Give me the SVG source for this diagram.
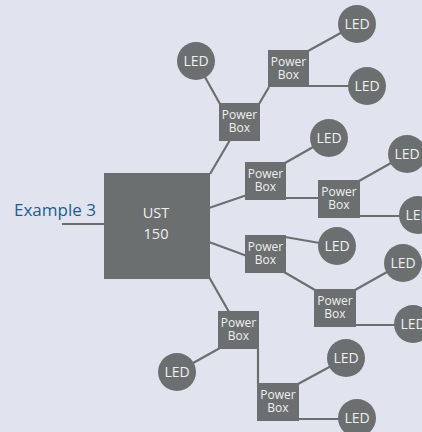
<svg xmlns="http://www.w3.org/2000/svg" width="422" height="432" viewBox="0 0 422 432">
  <style>
    .bg { fill: #e1e4ee; }
    .box { fill: #6b6f70; }
    .led { fill: #6b6f70; }
    .lbl { fill: #eef0f0; font-family: "Open Sans", "DejaVu Sans", sans-serif; text-anchor: middle; }
    .pb { font-size: 12px; }
    .ledt { font-size: 14px; }
    .ust { font-size: 14.5px; }
    .title { fill: #1c5d8e; font-family: "Open Sans", "DejaVu Sans", sans-serif; font-size: 17px; }
    .conn line { stroke: #6b6f70; stroke-width: 2.2; fill: none; }
  </style>
  <rect class="bg" x="0" y="0" width="422" height="432"/>

  <g id="connectors" class="conn">
    <line x1="62" y1="224" x2="105" y2="224"/>
    <line x1="210" y1="174" x2="230" y2="140"/>
    <line x1="220" y1="104" x2="196" y2="61"/>
    <line x1="259" y1="104" x2="269" y2="87"/>
    <line x1="308" y1="51" x2="357" y2="24"/>
    <line x1="308" y1="86" x2="367" y2="86"/>
    <line x1="209" y1="208" x2="247" y2="195"/>
    <line x1="285" y1="163" x2="329" y2="138"/>
    <line x1="285" y1="198" x2="319" y2="198"/>
    <line x1="359" y1="181" x2="407" y2="154"/>
    <line x1="359" y1="216" x2="418" y2="216"/>
    <line x1="209" y1="242" x2="247" y2="256"/>
    <line x1="285" y1="237" x2="337" y2="246"/>
    <line x1="284" y1="272" x2="315" y2="290"/>
    <line x1="355" y1="290" x2="403" y2="263"/>
    <line x1="355" y1="325" x2="413" y2="325"/>
    <line x1="209" y1="277" x2="229" y2="312"/>
    <line x1="220" y1="348" x2="177" y2="372"/>
    <line x1="258" y1="348" x2="258" y2="384"/>
    <line x1="298" y1="384" x2="346" y2="358"/>
    <line x1="298" y1="419" x2="357" y2="419"/>
  </g>

  <g id="example-label">
    <text class="title" x="14" y="216">Example 3</text>
  </g>

  <g id="ust150">
    <rect class="box" x="104" y="173" width="106" height="106"/>
    <text class="lbl ust" x="156" y="218">UST</text>
    <text class="lbl ust" x="156" y="239">150</text>
  </g>

  <g id="pb1">
    <rect class="box" x="219" y="103" width="41" height="38"/>
    <text class="lbl pb" x="239.5" y="119">Power</text>
    <text class="lbl pb" x="239.5" y="132">Box</text>
  </g>
  <g id="pb2">
    <rect class="box" x="268" y="50" width="41" height="37"/>
    <text class="lbl pb" x="288.5" y="66">Power</text>
    <text class="lbl pb" x="288.5" y="79">Box</text>
  </g>
  <g id="pb3">
    <rect class="box" x="245" y="162" width="41" height="38"/>
    <text class="lbl pb" x="265.5" y="178">Power</text>
    <text class="lbl pb" x="265.5" y="191">Box</text>
  </g>
  <g id="pb4">
    <rect class="box" x="318" y="180" width="42" height="38"/>
    <text class="lbl pb" x="339" y="196">Power</text>
    <text class="lbl pb" x="339" y="209">Box</text>
  </g>
  <g id="pb5">
    <rect class="box" x="245" y="235" width="41" height="38"/>
    <text class="lbl pb" x="265.5" y="251">Power</text>
    <text class="lbl pb" x="265.5" y="264">Box</text>
  </g>
  <g id="pb6">
    <rect class="box" x="314" y="289" width="42" height="38"/>
    <text class="lbl pb" x="335" y="305">Power</text>
    <text class="lbl pb" x="335" y="318">Box</text>
  </g>
  <g id="pb7">
    <rect class="box" x="218" y="311" width="41" height="38"/>
    <text class="lbl pb" x="238.5" y="327">Power</text>
    <text class="lbl pb" x="238.5" y="340">Box</text>
  </g>
  <g id="pb8">
    <rect class="box" x="257" y="383" width="42" height="38"/>
    <text class="lbl pb" x="278" y="399">Power</text>
    <text class="lbl pb" x="278" y="412">Box</text>
  </g>

  <g id="led1"><circle class="led" cx="196" cy="61" r="19"/><text class="lbl ledt" x="196" y="66">LED</text></g>
  <g id="led2"><circle class="led" cx="357" cy="24" r="19"/><text class="lbl ledt" x="357" y="29">LED</text></g>
  <g id="led3"><circle class="led" cx="367" cy="86" r="19"/><text class="lbl ledt" x="367" y="91">LED</text></g>
  <g id="led4"><circle class="led" cx="329" cy="138" r="19"/><text class="lbl ledt" x="329" y="143">LED</text></g>
  <g id="led5"><circle class="led" cx="407" cy="154" r="19"/><text class="lbl ledt" x="407" y="159">LED</text></g>
  <g id="led6"><circle class="led" cx="418" cy="215" r="19"/><text class="lbl ledt" x="418" y="220">LED</text></g>
  <g id="led7"><circle class="led" cx="337" cy="246" r="19"/><text class="lbl ledt" x="337" y="251">LED</text></g>
  <g id="led8"><circle class="led" cx="403" cy="263" r="19"/><text class="lbl ledt" x="403" y="268">LED</text></g>
  <g id="led9"><circle class="led" cx="413" cy="324" r="19"/><text class="lbl ledt" x="413" y="329">LED</text></g>
  <g id="led10"><circle class="led" cx="177" cy="372" r="19"/><text class="lbl ledt" x="177" y="377">LED</text></g>
  <g id="led11"><circle class="led" cx="346" cy="358" r="19"/><text class="lbl ledt" x="346" y="363">LED</text></g>
  <g id="led12"><circle class="led" cx="357" cy="418" r="19"/><text class="lbl ledt" x="357" y="423">LED</text></g>
</svg>
